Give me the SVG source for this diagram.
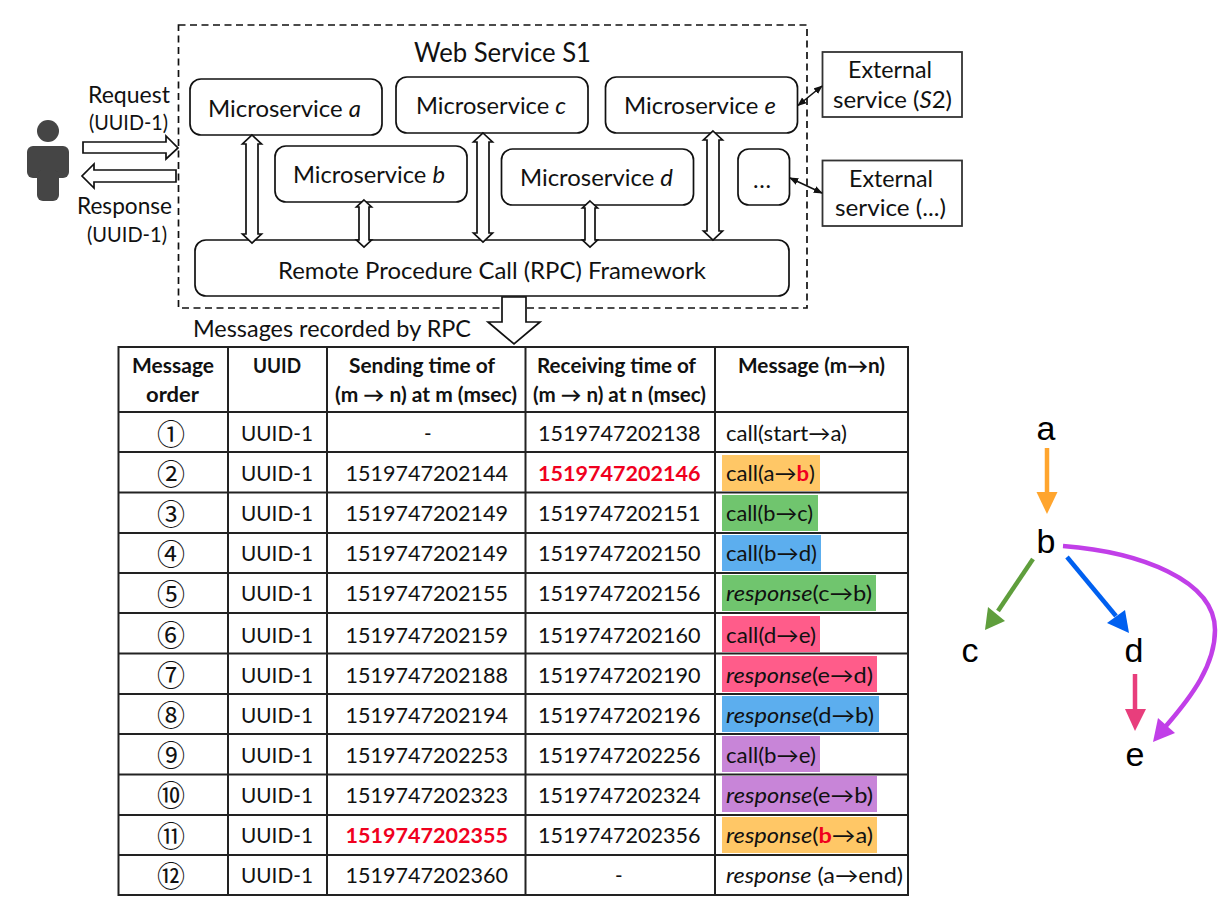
<svg xmlns="http://www.w3.org/2000/svg" width="1232" height="911" viewBox="0 0 1232 911">
<style>
text{font-family:Lato,"Liberation Sans",sans-serif;fill:#111;font-size:23px}
.m{font-size:23.5px}
.h{font-size:20px;font-weight:700}
.n{font-size:20.5px}
.t{font-size:21px}
.c{font-family:"Noto Sans CJK JP",sans-serif;font-size:28px;text-anchor:middle}
.g{font-family:"Liberation Sans",Arial,sans-serif;font-size:34px;text-anchor:middle;fill:#000}
.r{fill:#f0001e;font-weight:700}
.box{fill:#fff;stroke:#111;stroke-width:1.7}
.dbl{fill:#fff;stroke:#111;stroke-width:1.7;stroke-linejoin:miter}
.grid{stroke:#222;stroke-width:2;fill:none}
.ext{fill:#fff;stroke:#333;stroke-width:1.8}
</style>
<defs>
<marker id="sm" viewBox="0 0 10 10" refX="9" refY="5" markerWidth="9" markerHeight="8" orient="auto-start-reverse" markerUnits="userSpaceOnUse" preserveAspectRatio="none"><path d="M0 0.5L10 5L0 9.500z" fill="#111"/></marker>
<filter id="soft" x="-10%" y="-10%" width="120%" height="120%"><feGaussianBlur stdDeviation="0.7"/></filter>
</defs>

<g id="web-service-s1">
<rect x="178.500" y="25" width="628.500" height="283" fill="none" stroke="#111" stroke-width="1.700" stroke-dasharray="7 4.500"/>
<text x="414" y="62" textLength="177" lengthAdjust="spacingAndGlyphs" style="font-size:26px">Web Service S1</text>
</g>

<g id="user" fill="#444" filter="url(#soft)">
<circle cx="48" cy="131" r="11"/>
<rect x="27" y="146" width="42" height="32" rx="6"/>
<rect x="37" y="170" width="22" height="31" rx="6"/>
</g>

<g id="user-labels">
<text x="88" y="103" textLength="82" lengthAdjust="spacingAndGlyphs">Request</text>
<text x="89" y="130" textLength="79" lengthAdjust="spacingAndGlyphs" style="font-size:21px">(UUID-1)</text>
<text x="77" y="214" textLength="95" lengthAdjust="spacingAndGlyphs">Response</text>
<text x="87" y="242" textLength="80" lengthAdjust="spacingAndGlyphs" style="font-size:21px">(UUID-1)</text>
</g>

<g id="microservice-a"><rect class="box" x="190" y="79" width="192" height="56" rx="11"/><text class="m" x="208" y="116.500" textLength="153" lengthAdjust="spacingAndGlyphs">Microservice <tspan font-style="italic">a</tspan></text></g>
<g id="microservice-c"><rect class="box" x="396" y="77" width="192" height="56" rx="11"/><text class="m" x="416" y="114" textLength="150" lengthAdjust="spacingAndGlyphs">Microservice <tspan font-style="italic">c</tspan></text></g>
<g id="microservice-e"><rect class="box" x="605.500" y="77" width="192" height="56" rx="11"/><text class="m" x="624" y="114" textLength="152" lengthAdjust="spacingAndGlyphs">Microservice <tspan font-style="italic">e</tspan></text></g>
<g id="microservice-b"><rect class="box" x="275" y="146" width="192" height="56" rx="11"/><text class="m" x="293" y="183" textLength="152" lengthAdjust="spacingAndGlyphs">Microservice <tspan font-style="italic">b</tspan></text></g>
<g id="microservice-d"><rect class="box" x="501.500" y="149" width="192" height="56" rx="11"/><text class="m" x="520" y="186" textLength="153" lengthAdjust="spacingAndGlyphs">Microservice <tspan font-style="italic">d</tspan></text></g>
<g id="microservice-more"><rect class="box" x="738" y="149" width="51.500" height="56" rx="11"/><text class="m" x="753" y="188" textLength="18">...</text></g>
<g id="rpc-framework"><rect class="box" x="195" y="240" width="594" height="56" rx="11"/><text class="m" x="278" y="278.500" textLength="428" lengthAdjust="spacingAndGlyphs">Remote  Procedure Call (RPC) Framework</text></g>
<g id="external-s2"><rect class="ext" x="822.500" y="52" width="139.500" height="65"/><text class="m" x="848" y="78" textLength="84" lengthAdjust="spacingAndGlyphs">External</text><text class="m" x="833" y="108" textLength="119" lengthAdjust="spacingAndGlyphs">service (<tspan font-style="italic">S</tspan>2)</text></g>
<g id="external-more"><rect class="ext" x="822.500" y="160.500" width="139.500" height="65.500"/><text class="m" x="849" y="187" textLength="84" lengthAdjust="spacingAndGlyphs">External</text><text class="m" x="835" y="216" textLength="111" lengthAdjust="spacingAndGlyphs">service (...)</text></g>

<text x="193" y="337" textLength="278" lengthAdjust="spacingAndGlyphs" id="rpc-caption">Messages recorded by RPC</text>

<g id="connectors">
<polygon class="dbl" points="83,142 166,142 166,136 178,148 166,159 166,153 83,153"/>
<polygon class="dbl" points="176,170 94,170 94,164 82,176 94,188 94,182 176,182"/>
<polygon class="dbl" points="252,135 261.500,144 258,144 258,234 261.500,234 252,243 242.500,234 246,234 246,144 242.500,144"/>
<polygon class="dbl" points="364,200 371.500,207 369,207 369,240 371.500,240 364,247 356.500,240 359,240 359,207 356.500,207"/>
<polygon class="dbl" points="483,133 492.500,142 489,142 489,233 492.500,233 483,242 473.500,233 477,233 477,142 473.500,142"/>
<polygon class="dbl" points="590,201 597.500,208 595,208 595,240 597.500,240 590,247 582.500,240 585,240 585,208 582.500,208"/>
<polygon class="dbl" points="713,131 722.500,140 719,140 719,231 722.500,231 713,240 703.500,231 707,231 707,140 703.500,140"/>
<polygon class="dbl" points="502,297 526,297 526,322 540,322 514,344 488,322 502,322"/>
<line x1="798" y1="105.500" x2="822" y2="86" stroke="#111" stroke-width="1.600" marker-start="url(#sm)" marker-end="url(#sm)"/>
<line x1="790" y1="178" x2="822" y2="193" stroke="#111" stroke-width="1.600" marker-start="url(#sm)" marker-end="url(#sm)"/>
</g>

<g id="message-highlights">
<rect x="722" y="455" width="98" height="36" fill="#FFC766"/>
<rect x="722" y="495" width="96" height="36" fill="#70C56E"/>
<rect x="722" y="535" width="99" height="36" fill="#5CAEEE"/>
<rect x="722" y="575" width="154" height="36" fill="#70C56E"/>
<rect x="722" y="616" width="98" height="36" fill="#FF5C8A"/>
<rect x="722" y="656" width="155" height="36" fill="#FF5C8A"/>
<rect x="722" y="696" width="157" height="36" fill="#5CAEEE"/>
<rect x="722" y="736" width="98" height="36" fill="#C885D8"/>
<rect x="722" y="776" width="155" height="36" fill="#C885D8"/>
<rect x="722" y="817" width="155" height="36" fill="#FFC766"/>
</g>

<g id="message-table">
<path class="grid" d="M118.500 347H908V895H118.500ZM228 347V895M327 347V895M525.500 347V895M715 347V895M118.500 412H908M118.500 452H908M118.500 492.500H908M118.500 533H908M118.500 573H908M118.500 613H908M118.500 653.500H908M118.500 694H908M118.500 734H908M118.500 774.500H908M118.500 815H908M118.500 855H908"/>
<text class="h" x="132" y="373" textLength="82" lengthAdjust="spacingAndGlyphs">Message</text>
<text class="h" x="146" y="402" textLength="53" lengthAdjust="spacingAndGlyphs">order</text>
<text class="h" x="253" y="373" textLength="48" lengthAdjust="spacingAndGlyphs">UUID</text>
<text class="h" x="349" y="373" textLength="146" lengthAdjust="spacingAndGlyphs">Sending time of</text>
<text class="h" x="335" y="402" textLength="182" lengthAdjust="spacingAndGlyphs">(m → n) at m (msec)</text>
<text class="h" x="537" y="373" textLength="159" lengthAdjust="spacingAndGlyphs">Receiving time of</text>
<text class="h" x="533" y="402" textLength="173" lengthAdjust="spacingAndGlyphs">(m → n) at n (msec)</text>
<text class="h" x="738" y="373" textLength="147" lengthAdjust="spacingAndGlyphs">Message (m→n)</text>

<text class="c" x="171" y="445">①</text>
<text class="c" x="171" y="485">②</text>
<text class="c" x="171" y="525">③</text>
<text class="c" x="171" y="565">④</text>
<text class="c" x="171" y="605">⑤</text>
<text class="c" x="171" y="646">⑥</text>
<text class="c" x="171" y="686">⑦</text>
<text class="c" x="171" y="726">⑧</text>
<text class="c" x="171" y="766">⑨</text>
<text class="c" x="171" y="806">⑩</text>
<text class="c" x="171" y="847">⑪</text>
<text class="c" x="171" y="887">⑫</text>

<g class="uuid">
<text class="n" x="241" y="441" textLength="72" lengthAdjust="spacingAndGlyphs">UUID-1</text>
<text class="n" x="241" y="481" textLength="72" lengthAdjust="spacingAndGlyphs">UUID-1</text>
<text class="n" x="241" y="521" textLength="72" lengthAdjust="spacingAndGlyphs">UUID-1</text>
<text class="n" x="241" y="561" textLength="72" lengthAdjust="spacingAndGlyphs">UUID-1</text>
<text class="n" x="241" y="601" textLength="72" lengthAdjust="spacingAndGlyphs">UUID-1</text>
<text class="n" x="241" y="642.500" textLength="72" lengthAdjust="spacingAndGlyphs">UUID-1</text>
<text class="n" x="241" y="682.500" textLength="72" lengthAdjust="spacingAndGlyphs">UUID-1</text>
<text class="n" x="241" y="722.500" textLength="72" lengthAdjust="spacingAndGlyphs">UUID-1</text>
<text class="n" x="241" y="762.500" textLength="72" lengthAdjust="spacingAndGlyphs">UUID-1</text>
<text class="n" x="241" y="802.500" textLength="72" lengthAdjust="spacingAndGlyphs">UUID-1</text>
<text class="n" x="241" y="843" textLength="72" lengthAdjust="spacingAndGlyphs">UUID-1</text>
<text class="n" x="241" y="883" textLength="72" lengthAdjust="spacingAndGlyphs">UUID-1</text>
</g>

<g class="send">
<text class="n" x="424" y="441">-</text>
<text class="n" x="345.500" y="481" textLength="162.500" lengthAdjust="spacingAndGlyphs">1519747202144</text>
<text class="n" x="345.500" y="521" textLength="162.500" lengthAdjust="spacingAndGlyphs">1519747202149</text>
<text class="n" x="345.500" y="561" textLength="162.500" lengthAdjust="spacingAndGlyphs">1519747202149</text>
<text class="n" x="345.500" y="601" textLength="162.500" lengthAdjust="spacingAndGlyphs">1519747202155</text>
<text class="n" x="345.500" y="642.500" textLength="162.500" lengthAdjust="spacingAndGlyphs">1519747202159</text>
<text class="n" x="345.500" y="682.500" textLength="162.500" lengthAdjust="spacingAndGlyphs">1519747202188</text>
<text class="n" x="345.500" y="722.500" textLength="162.500" lengthAdjust="spacingAndGlyphs">1519747202194</text>
<text class="n" x="345.500" y="762.500" textLength="162.500" lengthAdjust="spacingAndGlyphs">1519747202253</text>
<text class="n" x="345.500" y="802.500" textLength="162.500" lengthAdjust="spacingAndGlyphs">1519747202323</text>
<text class="n r" x="345.500" y="843" textLength="162.500" lengthAdjust="spacingAndGlyphs">1519747202355</text>
<text class="n" x="345.500" y="883" textLength="162.500" lengthAdjust="spacingAndGlyphs">1519747202360</text>
</g>

<g class="recv">
<text class="n" x="538" y="441" textLength="162.500" lengthAdjust="spacingAndGlyphs">1519747202138</text>
<text class="n r" x="538" y="481" textLength="162.500" lengthAdjust="spacingAndGlyphs">1519747202146</text>
<text class="n" x="538" y="521" textLength="162.500" lengthAdjust="spacingAndGlyphs">1519747202151</text>
<text class="n" x="538" y="561" textLength="162.500" lengthAdjust="spacingAndGlyphs">1519747202150</text>
<text class="n" x="538" y="601" textLength="162.500" lengthAdjust="spacingAndGlyphs">1519747202156</text>
<text class="n" x="538" y="642.500" textLength="162.500" lengthAdjust="spacingAndGlyphs">1519747202160</text>
<text class="n" x="538" y="682.500" textLength="162.500" lengthAdjust="spacingAndGlyphs">1519747202190</text>
<text class="n" x="538" y="722.500" textLength="162.500" lengthAdjust="spacingAndGlyphs">1519747202196</text>
<text class="n" x="538" y="762.500" textLength="162.500" lengthAdjust="spacingAndGlyphs">1519747202256</text>
<text class="n" x="538" y="802.500" textLength="162.500" lengthAdjust="spacingAndGlyphs">1519747202324</text>
<text class="n" x="538" y="843" textLength="162.500" lengthAdjust="spacingAndGlyphs">1519747202356</text>
<text class="n" x="615" y="883">-</text>
</g>

<g class="msg">
<text class="t" x="726" y="441" textLength="121" lengthAdjust="spacingAndGlyphs">call(start→a)</text>
<text class="t" x="726" y="481" textLength="89" lengthAdjust="spacingAndGlyphs">call(a→<tspan class="r">b</tspan>)</text>
<text class="t" x="726" y="521" textLength="87" lengthAdjust="spacingAndGlyphs">call(b→c)</text>
<text class="t" x="726" y="561" textLength="91" lengthAdjust="spacingAndGlyphs">call(b→d)</text>
<text class="t" x="726" y="601" textLength="146" lengthAdjust="spacingAndGlyphs"><tspan font-style="italic">response</tspan>(c→b)</text>
<text class="t" x="726" y="642.500" textLength="90" lengthAdjust="spacingAndGlyphs">call(d→e)</text>
<text class="t" x="726" y="682.500" textLength="147" lengthAdjust="spacingAndGlyphs"><tspan font-style="italic">response</tspan>(e→d)</text>
<text class="t" x="726" y="722.500" textLength="148" lengthAdjust="spacingAndGlyphs"><tspan font-style="italic">response</tspan>(d→b)</text>
<text class="t" x="726" y="762.500" textLength="90" lengthAdjust="spacingAndGlyphs">call(b→e)</text>
<text class="t" x="726" y="802.500" textLength="147" lengthAdjust="spacingAndGlyphs"><tspan font-style="italic">response</tspan>(e→b)</text>
<text class="t" x="726" y="843" textLength="147" lengthAdjust="spacingAndGlyphs"><tspan font-style="italic">response</tspan>(<tspan class="r">b</tspan>→a)</text>
<text class="t" x="726" y="883" textLength="177" lengthAdjust="spacingAndGlyphs"><tspan font-style="italic">response</tspan> (a→end)</text>
</g>
</g>

<g id="node-a"><text class="g" x="1046" y="440">a</text></g>
<g id="node-b"><text class="g" x="1046" y="553">b</text></g>
<g id="node-c"><text class="g" x="970" y="662">c</text></g>
<g id="node-d"><text class="g" x="1134" y="662">d</text></g>
<g id="node-e"><text class="g" x="1135" y="766">e</text></g>

<g id="graph-edges" fill="none" stroke-width="4.500">
<path d="M1047 448V494" stroke="#FFA52E"/><polygon points="1036.500,492 1057.500,492 1047,514" fill="#FFA52E"/>
<path d="M1033 559L998 611" stroke="#5F9E3C"/><polygon points="988,607 1005,621 985,630" fill="#5F9E3C"/>
<path d="M1067 557L1116 616" stroke="#0060F0"/><polygon points="1107,623 1125,610 1129,633" fill="#0060F0"/>
<path d="M1135 674V711" stroke="#E83E7C"/><polygon points="1125,709 1146,709 1135,731" fill="#E83E7C"/>
<path d="M1063 546C1140 552 1215 580 1215 630C1215 665 1192 696 1166 726" stroke="#C13FE8"/><polygon points="1158,718 1175,733 1153,742" fill="#C13FE8"/>
</g>
</svg>
